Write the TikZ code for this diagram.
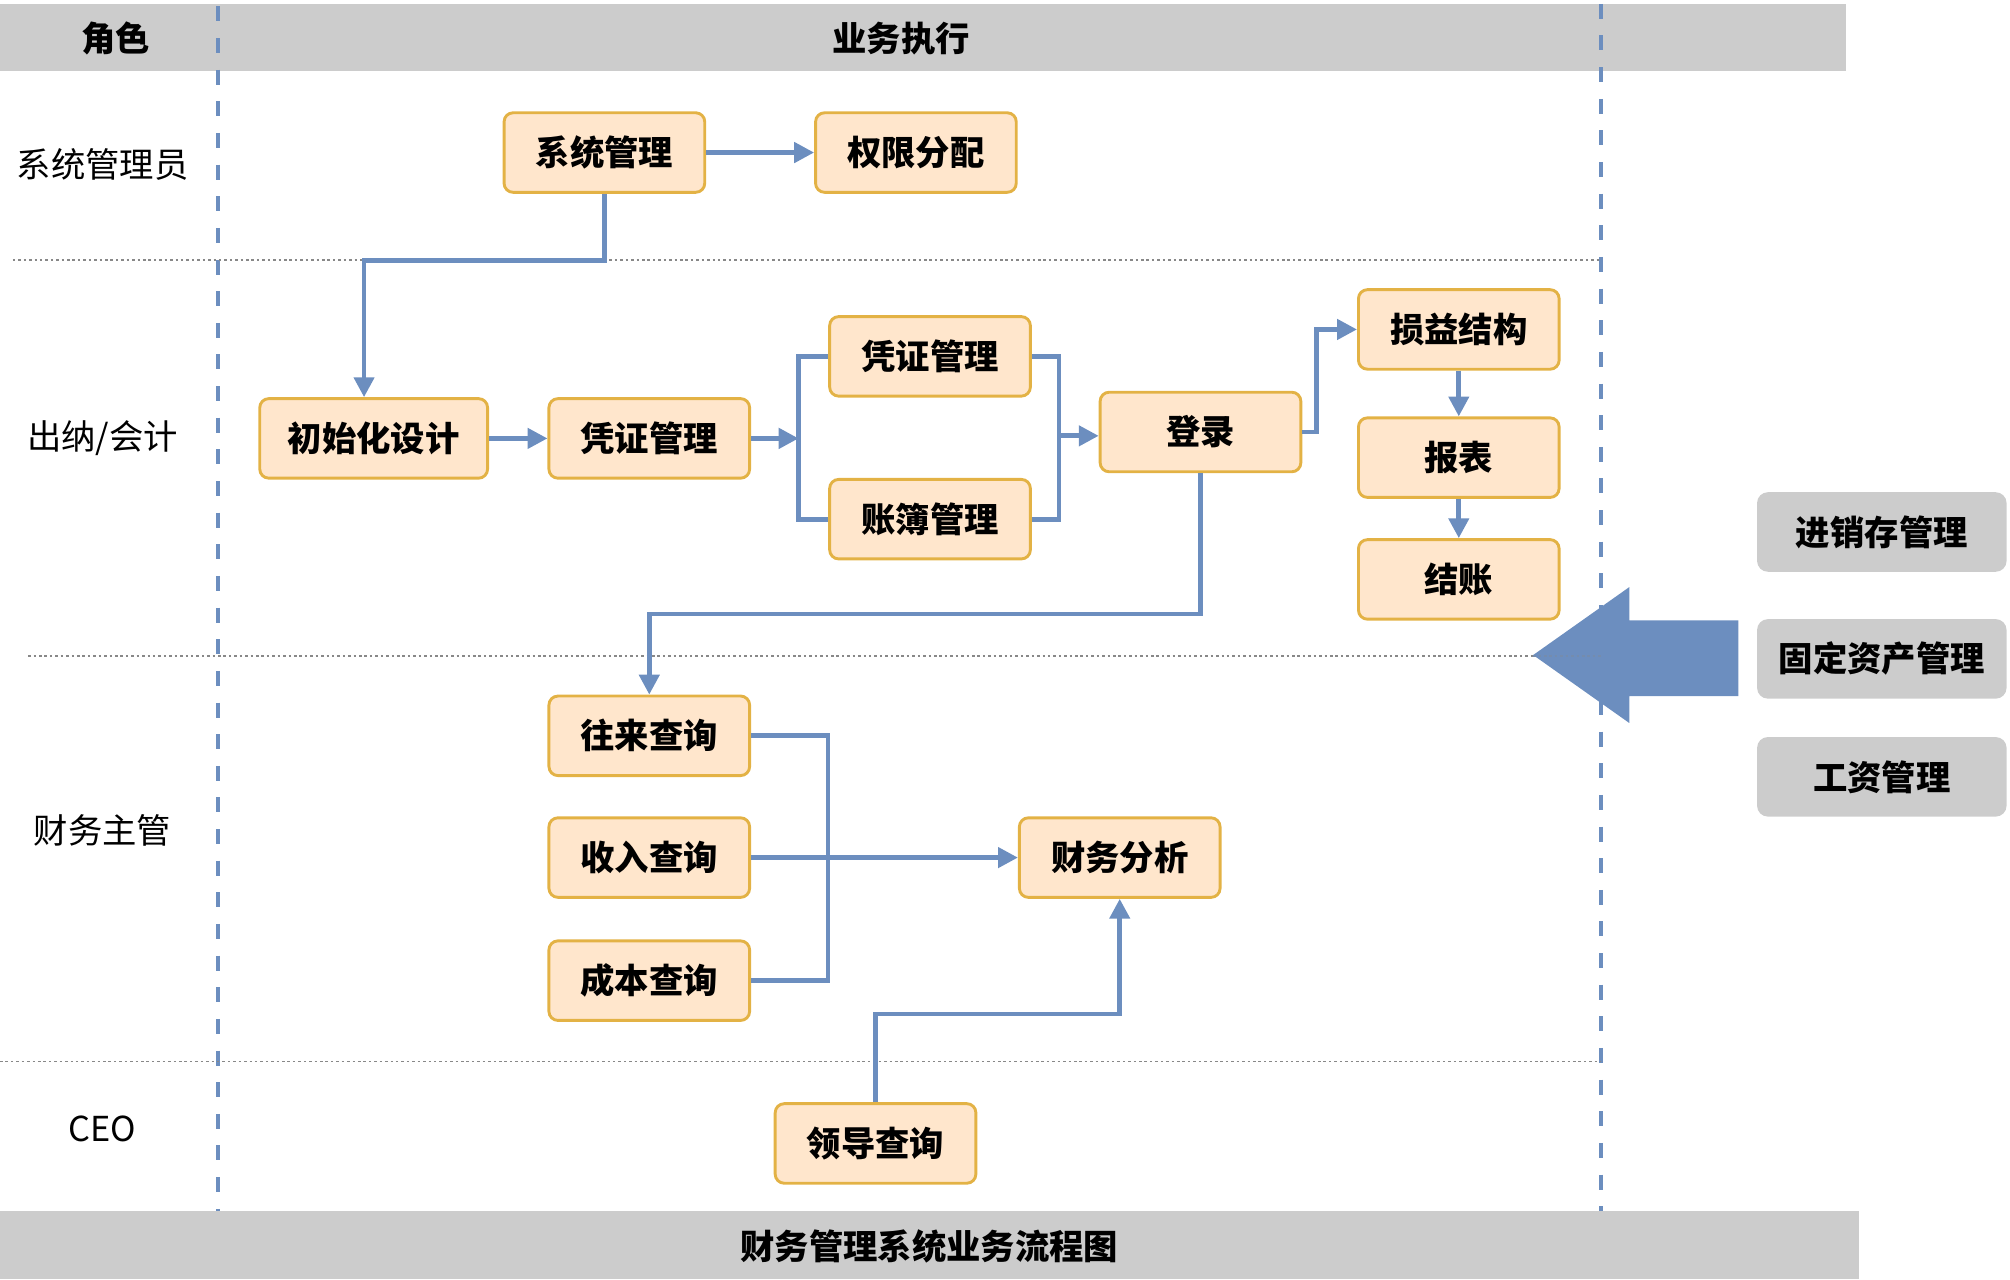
\documentclass[tikz,border=0pt]{standalone}
\usepackage{fontspec}
\setmainfont{Noto Sans CJK SC}
\usetikzlibrary{arrows.meta}
\definecolor{lnblue}{HTML}{6C8EBF}
\definecolor{ofill}{HTML}{FFE6CC}
\definecolor{oline}{HTML}{E3B245}
\definecolor{hdr}{HTML}{CCCCCC}
\definecolor{dotc}{HTML}{888888}
\begin{document}
\begin{tikzpicture}[x=0.709pt,y=-0.709pt,
  txt/.style={font=\fontsize{19}{22}\selectfont},
  btxt/.style={font=\fontsize{19}{22}\selectfont\bfseries},
  box/.style={draw=oline, fill=ofill, line width=1.6pt, rounded corners=5pt,
    minimum width=111pt, minimum height=44pt, inner sep=0pt, btxt},
  gbox/.style={fill=hdr, rounded corners=6pt, minimum width=138pt,
    minimum height=44pt, inner sep=0pt, btxt},
  conn/.style={draw=lnblue, line width=2.6pt},
  arr/.style={conn, -{Triangle[length=11pt,width=11pt]}},
  sep/.style={draw=dotc, line width=1pt, dash pattern=on 1.4pt off 1.6pt},
  vsep/.style={draw=lnblue, line width=2.3pt, dash pattern=on 8.3pt off 9.2pt}]
\useasboundingbox (0,0) rectangle (1568,998.5);
% bands
\fill[hdr] (0,3) rectangle (1440,55);
\fill[hdr] (0,945) rectangle (1450,998);
\node[btxt] (hrole) at (90,30) {角色};
\node[btxt] (hexec) at (703,30) {业务执行};
\node[btxt] (title) at (725,972) {财务管理系统业务流程图};
% vertical dashed lines
\draw[vsep] (170,5) -- (170,945);
\draw[vsep] (1249,3) -- (1249,945);
% big arrow
\fill[lnblue] (1196,511) -- (1271,458) -- (1271,484) -- (1356,484)
  -- (1356,543) -- (1271,543) -- (1271,564) -- cycle;
% lane separators
\draw[sep] (10,203) -- (1249,203);
\draw[sep] (22,512) -- (1196,512);
\draw[sep, draw=lnblue!70!dotc] (1196,512) -- (1249,512);
\draw[sep] (0,828) -- (1249,828);
% lane labels
\node[txt] (l1) at (80,128) {系统管理员};
\node[txt] (l2) at (80,342) {出纳/会计};
\node[txt] (l3) at (80,648) {财务主管};
\node[txt] (l4) at (80,881) {CEO};
% boxes
\node[box] (sys) at (471.5,119) {系统管理};
\node[box] (perm) at (714.5,119) {权限分配};
\node[box, minimum width=126pt] (init) at (291.5,342) {初始化设计};
\node[box] (v1) at (506.5,342) {凭证管理};
\node[box] (v2) at (725.5,278) {凭证管理};
\node[box] (ledger) at (725.5,405) {账簿管理};
\node[box] (login) at (936.5,337) {登录};
\node[box] (pl) at (1138,257) {损益结构};
\node[box] (rep) at (1138,357) {报表};
\node[box] (close) at (1138,452) {结账};
\node[box] (q1) at (506.5,574) {往来查询};
\node[box] (q2) at (506.5,669) {收入查询};
\node[box] (q3) at (506.5,765) {成本查询};
\node[box] (fa) at (873.5,669) {财务分析};
\node[box] (lead) at (683,892) {领导查询};
% grey side modules
\node[gbox] (m1) at (1468,415) {进销存管理};
\node[gbox] (m2) at (1468,514) {固定资产管理};
\node[gbox] (m3) at (1468,606) {工资管理};
% connectors
\coordinate (c1) at (284,203);
\coordinate (b1) at (623,342);
\coordinate (b2) at (826,340);
\coordinate (b3) at (1027,257);
\coordinate (b4) at (506.5,479);
\coordinate (b5) at (646,574);
\coordinate (b6) at (683,791);
\draw[arr] (sys.east) -- (perm.west);
\draw[arr] (sys.south) |- (c1) -- (c1 |- init.north);
\draw[arr] (init.east) -- (v1.west);
\draw[conn] (v2.west) -| (b1) |- (ledger.west);
\draw[arr] (v1.east) -- (b1);
\draw[conn] (v2.east) -| (b2) |- (ledger.east);
\draw[arr] (b2) -- (login.west |- b2);
\draw[arr] (login.east) -| (b3) -- (pl.west);
\draw[arr] (pl.south) -- (rep.north);
\draw[arr] (rep.south) -- (close.north);
\draw[arr] (login.south) |- (b4) -- (q1.north);
\draw[conn] (q1.east) -- (b5) |- (q3.east);
\draw[arr] (q2.east) -- (fa.west);
\draw[arr] (lead.north) -- (b6) -| (fa.south);
\end{tikzpicture}
\end{document}
